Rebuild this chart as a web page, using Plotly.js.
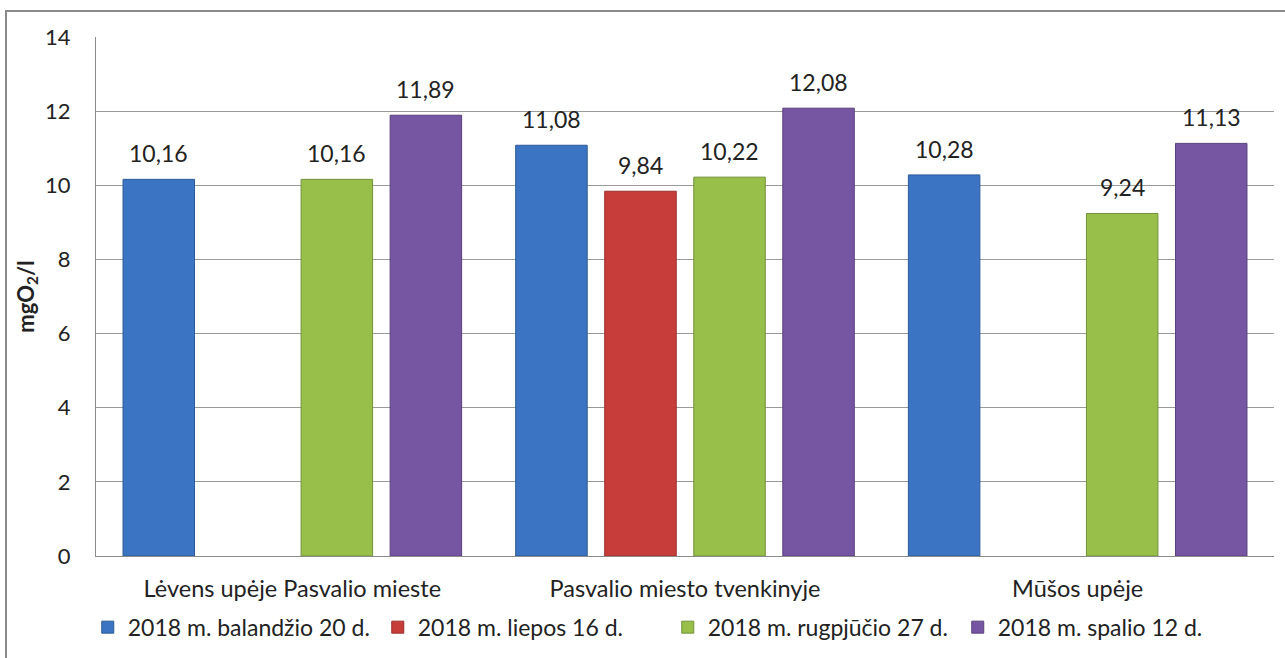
<!DOCTYPE html>
<html>
<head>
<meta charset="utf-8">
<script src="https://cdn.plot.ly/plotly-3.0.1.min.js"></script>
<style>
  html, body { margin: 0; padding: 0; background: #fff; overflow: hidden; }
  #frame { position: absolute; left: 5px; top: 10px; width: 1400px; height: 800px;
           border-left: 2px solid #8a8a8a; border-top: 2px solid #8a8a8a; }
  #chart { position: absolute; left: 0; top: 0; width: 1285px; height: 658px; }
</style>
</head>
<body>
<div id="frame"></div>
<div id="chart"></div>
<script>
const categories = ["Lėvens upėje Pasvalio mieste", "Pasvalio miesto tvenkinyje", "Mūšos upėje"];
const seriesNames = ["2018 m. balandžio 20 d.", "2018 m. liepos 16 d.", "2018 m. rugpjūčio 27 d.", "2018 m. spalio 12 d."];
const balandzio = [10.16, 11.08, 10.28];
const liepos = [null, 9.84, null];
const rugpjucio = [10.16, 10.22, 9.24];
const spalio = [11.89, 12.08, 11.13];
const yTicks = [0, 2, 4, 6, 8, 10, 12, 14];

const seriesValues = [balandzio, liepos, rugpjucio, spalio];
const colors = ["#3a74c2", "#c63d3a", "#97bf4a", "#7655a3"];
const lineColors = ["#2b5a96", "#9a2e2c", "#72913a", "#59407c"];
const FONT = "Lato, 'Open Sans', sans-serif";
const bargap = 0.093;

const traces = seriesValues.map((vals, i) => ({
  type: "bar",
  name: seriesNames[i],
  x: categories,
  y: vals,
  marker: { color: colors[i], line: { color: lineColors[i], width: 1 } },
  hoverinfo: "y+name"
}));

const annotations = [];
const slot = (1 - bargap) / seriesValues.length;
seriesValues.forEach((vals, i) => {
  vals.forEach((v, c) => {
    if (v === null) return;
    annotations.push({
      x: c + (i - (seriesValues.length - 1) / 2) * slot,
      y: v,
      xref: "x", yref: "y",
      text: v.toFixed(2).replace(".", ","),
      showarrow: false,
      yanchor: "bottom",
      yshift: 10,
      font: { family: FONT, size: 23, color: "#222" }
    });
  });
});

const layout = {
  width: 1285, height: 658,
  margin: { l: 96, r: 11, t: 37, b: 101 },
  paper_bgcolor: "rgba(0,0,0,0)",
  plot_bgcolor: "#fff",
  font: { family: FONT, size: 22, color: "#222" },
  barmode: "group",
  bargap: bargap,
  bargroupgap: 0.197,
  showlegend: true,
  legend: {
    orientation: "h", x: -0.007, xanchor: "left", y: -0.135, yanchor: "middle",
    font: { family: FONT, size: 23, color: "#222" },
    entrywidth: 245, entrywidthmode: "pixels",
    traceorder: "normal"
  },
  xaxis: {
    type: "category",
    showline: true, linecolor: "#8c8c8c", linewidth: 1,
    ticks: "", ticklabelstandoff: 12,
    tickfont: { family: FONT, size: 23.5, color: "#222" },
    fixedrange: true
  },
  yaxis: {
    range: [0, 14], tickvals: yTicks,
    showgrid: true, gridcolor: "#9a9a9a", gridwidth: 1,
    showline: true, linecolor: "#8c8c8c", linewidth: 1,
    zeroline: false, ticks: "", ticklabelstandoff: 20,
    tickfont: { family: FONT, size: 22, color: "#222" },
    title: { text: "<b>mgO<sub>2</sub>/l</b>", font: { family: FONT, size: 22, color: "#222" }, standoff: 4 },
    fixedrange: true
  },
  annotations: annotations
};

Plotly.newPlot("chart", traces, layout, { displayModeBar: false, staticPlot: true });
</script>
</body>
</html>
